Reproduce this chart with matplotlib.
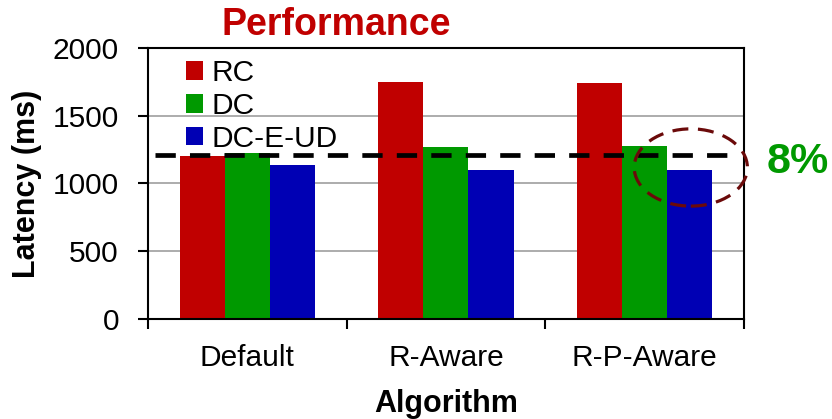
import numpy as np
import matplotlib.pyplot as plt
from matplotlib.patches import Ellipse

# 数据
algorithms = ['Default', 'R-Aware', 'R-P-Aware']
rc = [1205, 1747, 1742]
dc = [1223, 1269, 1273]
dc_e_ud = [1136, 1100, 1100]
baseline = 1210

plt.rcParams['font.family'] = ['Liberation Sans', 'DejaVu Sans']

fig = plt.figure(figsize=(8.32, 4.19), dpi=100)
ax = fig.add_axes([0.178, 0.2387, 0.716, 0.6468])

x = np.arange(len(algorithms))
w = 0.227
ax.bar(x - w, rc, w, color='#C00000', label='RC', zorder=2)
ax.bar(x, dc, w, color='#009900', label='DC', zorder=2)
ax.bar(x + w, dc_e_ud, w, color='#0000B4', label='DC-E-UD', zorder=2)

ax.set_xlim(-0.5, 2.5)
ax.set_ylim(0, 2000)
ax.set_yticks([0, 500, 1000, 1500, 2000])
ax.yaxis.grid(True, color='#A6A6A6', linewidth=1.3, zorder=0)
ax.set_axisbelow(True)

# 分组边界刻度
ax.set_xticks(x)
ax.set_xticklabels(algorithms, fontsize=21.5)
ax.set_xticks([-0.5, 0.5, 1.5, 2.5], minor=True)
ax.tick_params(axis='x', which='major', length=0, pad=18)
ax.tick_params(axis='x', which='minor', length=7, width=1.5, direction='out')
ax.tick_params(axis='y', labelsize=21.5, length=7, width=1.5, direction='out', pad=14)
for s in ax.spines.values():
    s.set_linewidth(1.5)

# 轴标签
fig.text(446 / 832, 1 - 412 / 419, 'Algorithm', fontsize=22, fontweight='bold',
         ha='center', va='baseline')
fig.text(27.5 / 832, 0.5 * (1 - 48 / 419 + 1 - 319 / 419), 'Latency (ms)',
         fontsize=22, fontweight='bold', rotation=90, ha='center', va='center')

# 基准虚线
ax.axhline(baseline, xmin=0.012, xmax=0.99, color='black', linewidth=3.4,
           linestyle=(0, (4.3, 3.0)), zorder=3)

# 圆圈标注
ax.add_patch(Ellipse((2.233, 1118), 0.57, 570, fill=False, edgecolor='#6B0A0A',
                     linewidth=2.3, linestyle=(0, (5, 3)), zorder=4, clip_on=False))
fig.text(767 / 832, 1 - 173 / 419, '8%', fontsize=31, fontweight='bold',
         color='#009900', ha='left', va='baseline')

fig.text(336 / 832, 1 - 35 / 419, 'Performance', fontsize=27, fontweight='bold',
         color='#C00000', ha='center', va='baseline')

ax.legend(loc='upper left', bbox_to_anchor=(0.033, 1.025), frameon=False,
          fontsize=21.5, handlelength=0.57, handleheight=0.57, handletextpad=0.3,
          labelspacing=0.16, borderaxespad=0.2)

fig.savefig('out.png', dpi=100)
